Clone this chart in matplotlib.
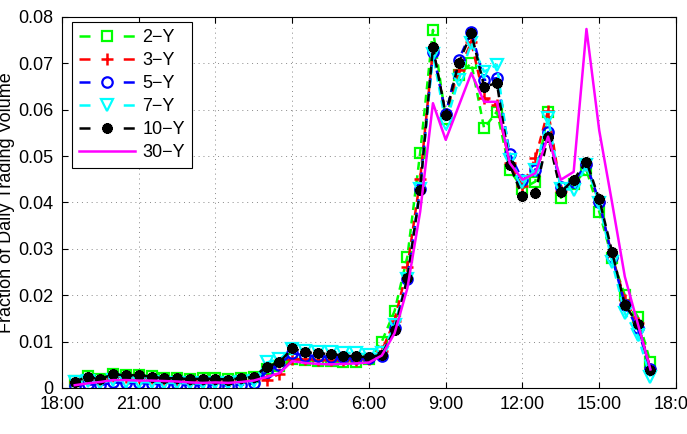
#!/usr/bin/env python3
"""Intraday trading volume profile by maturity (fraction of daily volume)."""

import matplotlib

matplotlib.use("Agg")
import matplotlib.pyplot as plt
import numpy as np

# half-hour bins, hours after 18:00 (18:30 ... 17:00)
hours = np.arange(1, 47) * 0.5

tick_hours = [0, 3, 6, 9, 12, 15, 18, 21, 24]
tick_labels = ["18:00", "21:00", "0:00", "3:00", "6:00", "9:00", "12:00", "15:00", "18:00"]
y_ticks = [0, 0.01, 0.02, 0.03, 0.04, 0.05, 0.06, 0.07, 0.08]
y_tick_labels = ["0", "0.01", "0.02", "0.03", "0.04", "0.05", "0.06", "0.07", "0.08"]

vol_2y = [
    0.0015, 0.0025, 0.0020, 0.0031, 0.0028, 0.0028, 0.0025, 0.0022, 0.0022, 0.0020,
    0.0021, 0.0021, 0.0019, 0.0021, 0.0024, 0.0040, 0.0048, 0.0062, 0.0060, 0.0058,
    0.0058, 0.0057, 0.0055, 0.0062, 0.0100, 0.0166, 0.0283, 0.0507, 0.0772, 0.0580,
    0.0675, 0.0700, 0.0560, 0.0596, 0.0470, 0.0430, 0.0445, 0.0595, 0.0410, 0.0440,
    0.0470, 0.0380, 0.0280, 0.0200, 0.0154, 0.0055,
]
vol_3y = [
    0.0012, 0.0020, 0.0017, 0.0025, 0.0024, 0.0024, 0.0021, 0.0019, 0.0018, 0.0016,
    0.0017, 0.0017, 0.0016, 0.0018, 0.0020, 0.0018, 0.0030, 0.0062, 0.0062, 0.0061,
    0.0060, 0.0060, 0.0060, 0.0063, 0.0080, 0.0145, 0.0260, 0.0450, 0.0730, 0.0590,
    0.0685, 0.0745, 0.0625, 0.0610, 0.0485, 0.0435, 0.0495, 0.0598, 0.0425, 0.0445,
    0.0480, 0.0400, 0.0285, 0.0190, 0.0140, 0.0042,
]
vol_5y = [
    0.0004, 0.0008, 0.0006, 0.0012, 0.0010, 0.0011, 0.0009, 0.0008, 0.0008, 0.0006,
    0.0006, 0.0007, 0.0005, 0.0007, 0.0010, 0.0035, 0.0050, 0.0075, 0.0070, 0.0068,
    0.0067, 0.0066, 0.0064, 0.0065, 0.0070, 0.0130, 0.0235, 0.0430, 0.0725, 0.0590,
    0.0707, 0.0768, 0.0664, 0.0668, 0.0505, 0.0448, 0.0470, 0.0552, 0.0434, 0.0445,
    0.0482, 0.0402, 0.0283, 0.0180, 0.0129, 0.0040,
]
vol_7y = [
    0.0012, 0.0016, 0.0010, 0.0018, 0.0014, 0.0013, 0.0012, 0.0011, 0.0011, 0.0010,
    0.0010, 0.0011, 0.0010, 0.0012, 0.0015, 0.0055, 0.0062, 0.0085, 0.0080, 0.0078,
    0.0077, 0.0076, 0.0075, 0.0072, 0.0075, 0.0135, 0.0235, 0.0430, 0.0720, 0.0570,
    0.0664, 0.0743, 0.0682, 0.0697, 0.0492, 0.0445, 0.0470, 0.0582, 0.0430, 0.0427,
    0.0480, 0.0398, 0.0272, 0.0161, 0.0114, 0.0024,
]
vol_10y = [
    0.0014, 0.0024, 0.0019, 0.0030, 0.0027, 0.0028, 0.0024, 0.0021, 0.0021, 0.0019,
    0.0020, 0.0020, 0.0018, 0.0021, 0.0024, 0.0046, 0.0055, 0.0086, 0.0077, 0.0075,
    0.0073, 0.0070, 0.0068, 0.0066, 0.0072, 0.0125, 0.0237, 0.0427, 0.0735, 0.0589,
    0.0700, 0.0765, 0.0650, 0.0657, 0.0481, 0.0413, 0.0420, 0.0542, 0.0423, 0.0449,
    0.0488, 0.0407, 0.0294, 0.0179, 0.0139, 0.0039,
]
vol_30y = [
    0.0006, 0.0010, 0.0013, 0.0017, 0.0017, 0.0016, 0.0016, 0.0015, 0.0014, 0.0012,
    0.0011, 0.0012, 0.0011, 0.0013, 0.0016, 0.0024, 0.0032, 0.0058, 0.0054, 0.0052,
    0.0051, 0.0052, 0.0053, 0.0055, 0.0070, 0.0118, 0.0215, 0.0380, 0.0614, 0.0535,
    0.0607, 0.0679, 0.0617, 0.0617, 0.0485, 0.0449, 0.0463, 0.0542, 0.0449, 0.0466,
    0.0774, 0.0555, 0.0400, 0.0240, 0.0140, 0.0040,
]

plt.rcParams["font.family"] = ["Liberation Sans", "DejaVu Sans"]
plt.rcParams["font.size"] = 13

DASH = (0, (3.2, 2.2))


def dashed(ax, y, color, marker, label, ms, mew=1.6, fill="none"):
    ax.plot(
        hours, y, color=color, linestyle=DASH, linewidth=1.8,
        marker=marker, markersize=ms, markerfacecolor=fill,
        markeredgecolor=color, markeredgewidth=mew, label=label,
    )


def main() -> None:
    fig = plt.figure(figsize=(6.87, 4.34), dpi=100)
    ax = fig.add_axes([0.0902, 0.106, 0.8938, 0.855])

    dashed(ax, vol_2y, "#00ff00", "s", "2\u2212Y", 6.5)
    dashed(ax, vol_3y, "#ff0000", "+", "3\u2212Y", 8.5, mew=1.8)
    dashed(ax, vol_5y, "#0000ff", "o", "5\u2212Y", 7.5)
    dashed(ax, vol_7y, "#00ffff", "v", "7\u2212Y", 8.5)
    dashed(ax, vol_10y, "black", (8, 2, 0), "10\u2212Y", 7.5, mew=2.4, fill="black")
    ax.plot(hours, vol_30y, color="#ff00ff", linewidth=1.8, label="30\u2212Y")

    ax.set_xlim(0, 24)
    ax.set_ylim(0, 0.08)
    ax.set_xticks(tick_hours)
    ax.set_xticklabels(tick_labels)
    ax.set_yticks(y_ticks)
    ax.set_yticklabels(y_tick_labels)
    ax.tick_params(direction="in", top=True, right=True, length=4, width=0.8, pad=6)
    ax.grid(True, linestyle=(0, (1, 4)), color="#888888", linewidth=0.7)
    for spine in ax.spines.values():
        spine.set_linewidth(0.8)

    ax.set_ylabel("Fraction of Daily Trading Volume")
    ax.yaxis.set_label_coords(-0.076, 0.5)

    leg = ax.legend(
        loc="upper left", bbox_to_anchor=(0.016, 0.9865), borderaxespad=0.0,
        handlelength=3.1, labelspacing=0.33, borderpad=0.4, handletextpad=0.4,
        fancybox=False, framealpha=1.0, edgecolor="black",
    )
    leg.get_frame().set_linewidth(0.8)
    # legend handles in the reference read "dash - marker - dash"
    for line in leg.get_lines()[:5]:
        line.set_linestyle((0, (4.4, 13.3)))

    fig.savefig("out.png", dpi=100)
    plt.close(fig)


if __name__ == "__main__":
    main()
